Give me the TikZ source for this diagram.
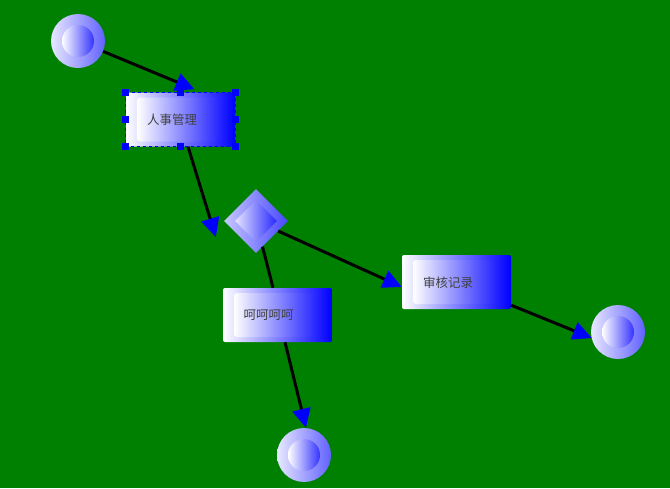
\documentclass[tikz,border=0pt]{standalone}
\usepackage{fontspec}
\newfontfamily\cjk{Noto Sans CJK SC}
\usetikzlibrary{arrows.meta,shapes.geometric}
\definecolor{bg}{RGB}{0,128,0}
\definecolor{pale}{RGB}{232,232,255}
\begin{document}
\begin{tikzpicture}[x=1pt,y=-1pt,
  outerbox/.style={rectangle, rounded corners=2pt, minimum width=109pt, minimum height=54pt, inner sep=0pt, left color=white, right color=blue},
  innerbox/.style={rectangle, rounded corners=3pt, minimum width=87pt, minimum height=44pt, inner sep=0pt, left color=white, right color=blue!90!white},
  label/.style={font=\cjk\fontsize{12.5}{14}\selectfont, text=black!75, inner sep=0pt},
  outerring/.style={circle, minimum size=54pt, inner sep=0pt, left color=pale, right color=blue!62!white},
  innerring/.style={circle, minimum size=32pt, inner sep=0pt, left color=white, right color=blue!80!white},
  outerdia/.style={diamond, aspect=1, minimum width=64pt, minimum height=64pt, inner sep=0pt, left color=blue!22!white, right color=blue!72!white},
  innerdia/.style={diamond, aspect=1, minimum width=42pt, minimum height=42pt, inner sep=0pt, left color=blue!10!white, right color=blue!85!white},
  conn/.style={draw=black, line width=3pt, -{Triangle[length=19pt,width=18pt,fill=blue,color=blue]}},
  plainconn/.style={draw=black, line width=3pt},
  handle/.style={fill=blue}
]
\path[fill=bg] (0,0) rectangle (670,488);

% nodes
\node[outerring] (s1) at (78,41) {};
\node[innerring] (s1i) at (78,41) {};

\node[outerbox] (b1) at (180.5,119.5) {};
\node[innerbox] (b1i) at (180.5,119.5) {};
\node[label] (b1t) at (172,120) {人事管理};

\node[outerdia] (d) at (256,221) {};
\node[innerdia] (di) at (256,221) {};

\node[outerbox] (b2) at (277.5,315) {};
\node[innerbox] (b2i) at (277.5,315) {};
\node[label] (b2t) at (268.5,315) {呵呵呵呵};

\node[outerbox] (b3) at (456.5,282) {};
\node[innerbox] (b3i) at (456.5,282) {};
\node[label] (b3t) at (448,283) {审核记录};

\node[outerring] (e2) at (304,455) {};
\node[innerring] (e2i) at (304,455) {};

\node[outerring] (e3) at (618,332) {};
\node[innerring] (e3i) at (618,332) {};

% connectors
\draw[conn] (s1) -- ([shift={(14,-3)}]b1.north);
\draw[conn] ([shift={(7.5,0)}]b1.south) -- ([shift={(-8,16)}]d.west);
\draw[plainconn] (d) -- ([shift={(-4.5,0)}]b2.north);
\draw[conn] ([shift={(7.5,0)}]b2.south) -- ([shift={(2,0)}]e2.north);
\draw[conn] (d) -- ([shift={(0,5)}]b3.west);
\draw[conn] ([shift={(0,-4)}]b3.south east) -- ([shift={(1,6)}]e3.west);

% selection frame
\draw[blue, dashed, line width=1pt] (b1.north west) rectangle (b1.south east);
\foreach \a in {north west,north,north east,east,south east,south,south west,west}
  \fill[handle] ([shift={(-3.5,-3.5)}]b1.\a) rectangle ++(7,7);
\end{tikzpicture}
\end{document}
